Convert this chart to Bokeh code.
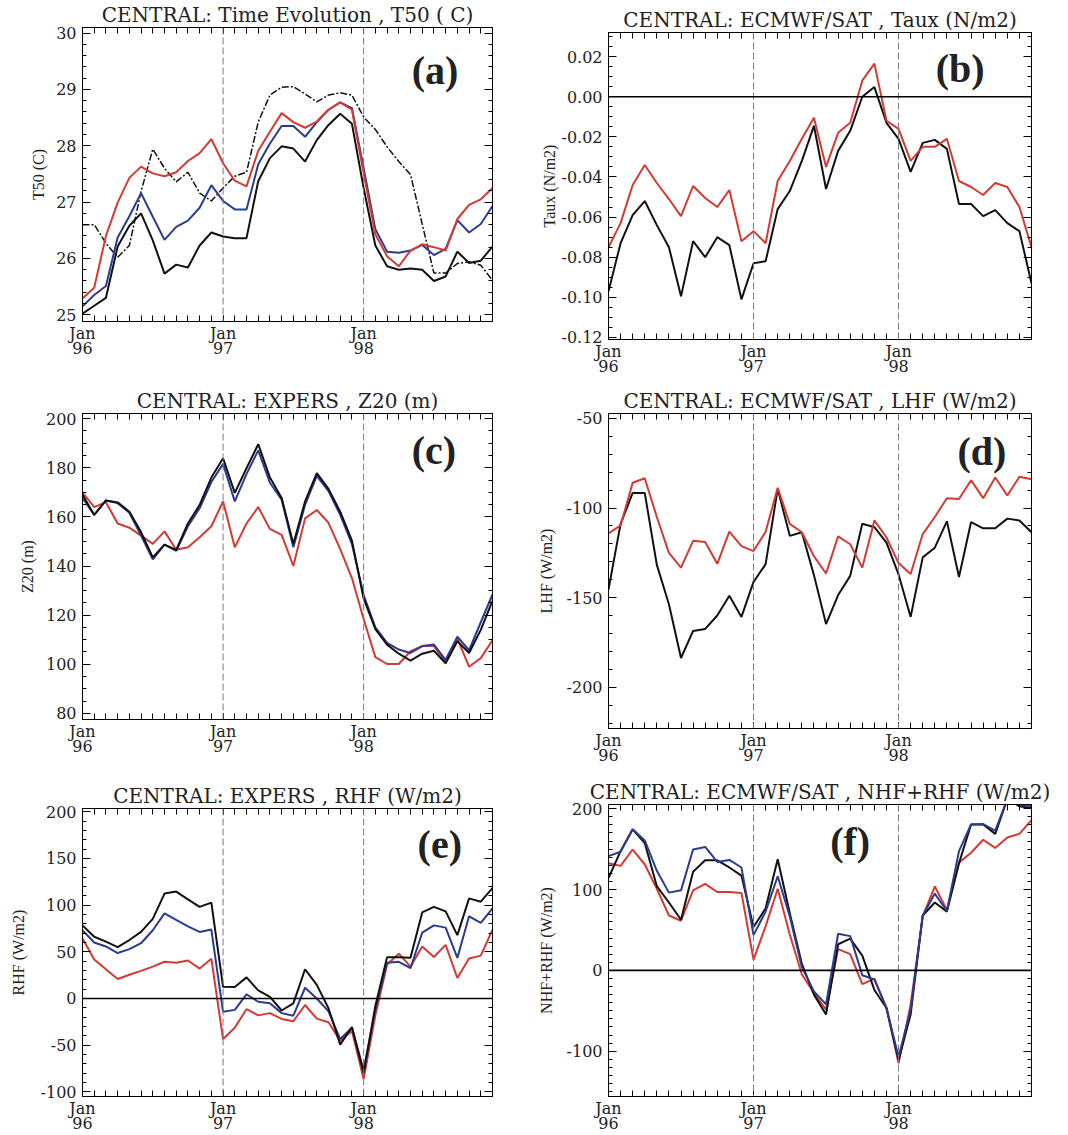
from bokeh.plotting import figure
from bokeh.models import FixedTicker, LinearAxis, Range1d, Span, Label, CustomLabelingPolicy
from bokeh.layouts import row, column
from bokeh.embed import file_html
from bokeh.resources import INLINE

# ---------------- data ----------------
months = list(range(36))            # Jan 96 ... Dec 98
jan_pos = [0, 12, 24]
jan_labels = ["Jan\n96", "Jan\n97", "Jan\n98"]

# (a) T50 (C)
t50_black = [25.02, 25.16, 25.3, 26.21, 26.58, 26.8, 26.32, 25.73, 25.89, 25.84, 26.23, 26.46,
             26.39, 26.36, 26.36, 27.37, 27.78, 27.99, 27.95, 27.72, 28.1, 28.37, 28.57, 28.39,
             27.25, 26.23, 25.86, 25.8, 25.82, 25.8, 25.6, 25.68, 26.12, 25.92, 25.96, 26.21]
t50_red = [25.29, 25.48, 26.4, 26.99, 27.43, 27.63, 27.51, 27.46, 27.53, 27.73, 27.87, 28.12,
           27.69, 27.38, 27.28, 27.91, 28.25, 28.58, 28.42, 28.32, 28.43, 28.64, 28.77, 28.64,
           27.51, 26.43, 26.04, 25.86, 26.14, 26.25, 26.2, 26.14, 26.7, 26.95, 27.05, 27.25]
t50_blue = [25.15, 25.35, 25.51, 26.37, 26.75, 27.16, 26.74, 26.33, 26.56, 26.67, 26.9, 27.3,
            27.02, 26.87, 26.87, 27.67, 28.04, 28.35, 28.35, 28.16, 28.42, 28.64, 28.77, 28.67,
            27.6, 26.52, 26.12, 26.1, 26.14, 26.24, 26.06, 26.17, 26.68, 26.46, 26.61, 26.93]
t50_obs = [26.6, 26.6, 26.27, 26.02, 26.23, 27.19, 27.94, 27.6, 27.36, 27.53, 27.16, 27.02,
           27.25, 27.46, 27.53, 28.42, 28.9, 29.04, 29.05, 28.92, 28.78, 28.9, 28.94, 28.9,
           28.51, 28.29, 27.98, 27.72, 27.49, 26.61, 25.74, 25.74, 25.91, 25.94, 25.88, 25.61]

# (b) Taux (N/m2)
taux_black = [-0.097, -0.073, -0.059, -0.052, -0.064, -0.075, -0.0995, -0.072, -0.080, -0.070, -0.074, -0.101,
              -0.083, -0.082, -0.056, -0.047, -0.032, -0.0145, -0.046, -0.027, -0.017, 0.0, 0.0048, -0.013,
              -0.021, -0.0375, -0.023, -0.0215, -0.026, -0.0535, -0.0535, -0.0595, -0.0565, -0.063, -0.067, -0.093]
taux_red = [-0.075, -0.063, -0.044, -0.034, -0.043, -0.051, -0.0595, -0.0445, -0.0505, -0.055, -0.0465, -0.072,
            -0.067, -0.073, -0.042, -0.032, -0.021, -0.0105, -0.035, -0.018, -0.013, 0.008, 0.0165, -0.012,
            -0.016, -0.032, -0.025, -0.025, -0.021, -0.042, -0.045, -0.049, -0.043, -0.045, -0.055, -0.075]

# (c) Z20 (m)
z20_black = [169, 160.8, 166.7, 165.9, 162.1, 153.8, 143.5, 148.7, 146.6, 157.3, 164.9, 176,
             183.9, 169.8, 179.8, 189.6, 176, 167.7, 149, 166.3, 177.8, 171.4, 162.1, 150.3,
             126.8, 114.3, 108, 104.3, 101.5, 104.3, 105.5, 100.4, 109.4, 104.6, 114.0, 125.8]
z20_blue = [167.7, 160.8, 166.7, 165.6, 161.7, 152.4, 142.7, 148.7, 146.2, 156.2, 163.5, 174.2,
            181.6, 166.3, 177.4, 187.1, 173.9, 167, 147.6, 164.9, 176.7, 170.5, 160.8, 149,
            128.2, 115, 108.7, 106, 104.6, 107.4, 108, 101.8, 111.2, 105.7, 117.1, 128.4]
z20_red = [170, 164, 166, 157.3, 155.6, 152.4, 149, 154.1, 146.6, 147.6, 151.7, 156.2,
           166.3, 147.6, 157.3, 164, 155.1, 152.7, 140, 159.4, 162.8, 157.6, 146.9, 135.1,
           118.4, 102.9, 100.1, 100.1, 105.3, 107.4, 107.4, 101.1, 110.4, 99, 102.5, 109.8]

# (d) LHF (W/m2)
lhf_black = [-145.4, -108.8, -91.6, -91.6, -131.7, -153.6, -183.6, -168.5, -167.4, -159.9, -148.9, -160.7,
             -141.2, -131.3, -89.3, -115.5, -113.5, -137.4, -164.7, -148.5, -137.8, -108.8, -110.7, -119.3,
             -137, -160.7, -127.5, -122.1, -107.4, -138.4, -107.8, -111.3, -111.3, -105.9, -106.9, -113.5]
lhf_red = [-114.1, -109.7, -85.9, -83.4, -105, -125, -133.2, -118.3, -118.9, -131.1, -113.2, -121.2,
           -124, -113.2, -88.7, -108.8, -113.5, -126.9, -136.5, -115.8, -120.2, -133.2, -106.9, -116.4,
           -130.7, -136.8, -114.5, -105, -94.5, -95, -84.5, -94.5, -83, -93, -82.6, -84]

# (e) RHF (W/m2)
rhf_black = [78.3, 66.1, 60.9, 55, 62.6, 71.3, 85.3, 112.4, 114.5, 106.1, 98.1, 102.7,
             12.5, 12.2, 22.6, 8.7, 1.7, -12.9, -5.2, 31.3, 14.6, -10.4, -49.4, -30.6,
             -80, -8, 44.2, 44.2, 43.5, 92.2, 98.1, 93.3, 67.9, 107.2, 103.7, 118.3]
rhf_blue = [73.1, 59.9, 55.7, 48.7, 52.9, 59.2, 73.1, 91.2, 84.2, 77.3, 71.3, 73.8,
            -14.3, -12.2, 4.5, -3.5, -5.2, -15.7, -18.4, 11.5, 0, -13.9, -43.5, -31.3,
            -76.6, -12, 38.3, 39.3, 32.4, 70.6, 78.3, 75.9, 43.5, 88, 81.1, 96.4]
rhf_red = [64.4, 41.8, 31.3, 20.9, 25.4, 29.6, 34.1, 39.3, 38.3, 40.7, 32, 42.5,
           -43.5, -31.3, -11.5, -18.1, -15.7, -21.9, -24.4, -7, -21.6, -25.4, -45.2, -34.8,
           -86.3, -18, 36.5, 48, 34.1, 55.7, 44.5, 57.4, 21.9, 42.8, 45.9, 73.8]

# (f) NHF+RHF (W/m2)
nrhf_black = [114.3, 147.5, 174.5, 157.6, 104.2, 84, 62.6, 122, 136.2, 136.2, 127.3, 117.2,
              53.7, 76.8, 137.4, 70.7, 8, -30, -54.5, 32.3, 39.2, 18.2, -24.2, -46.5,
              -111, -54.5, 67.9, 84, 72.7, 132.5, 180.6, 180.6, 168.9, 212, 203, 201]
nrhf_blue = [141.4, 146.7, 174.5, 160.8, 123.2, 96.2, 99, 149.5, 152.7, 134.1, 136.6, 127.3,
             43.6, 72.7, 116.4, 66.7, 4, -26, -42, 45.3, 42.4, -6.1, -11.3, -46.5,
             -107, -48.5, 67.9, 95, 73.5, 147.5, 180.6, 181, 173, 212, 205, 203]
nrhf_red = [132.5, 129.3, 149.5, 131.3, 101, 67.9, 61.4, 99, 107, 97, 97, 95.8,
            13.3, 54.5, 101, 44.4, -5, -28, -48.5, 26.3, 20.2, -17, -10.1, -46.5,
            -115, -42.4, 66.7, 103.8, 74.7, 133.3, 145.5, 161.6, 151.5, 164.4, 168.9, 185.9]

# ---------------- style ----------------
BLACK = "#111111"
RED = "#d43a34"
BLUE = "#2b3c8e"
TICK_FONT = "DejaVu Serif"
LABEL_FONT = "Liberation Serif"
NO_LABELS_JS = "for (const i of Array.from(indices)) { indices.unset(i) }\nreturn indices"


def frange(a, b, step):
    out = []
    v = a
    while v <= b + 1e-9:
        out.append(round(v, 6))
        v += step
    return out


def style_axis(ax, labels=True, maj_in=8, min_in=4):
    ax.major_tick_in = maj_in
    ax.major_tick_out = 0
    ax.minor_tick_in = min_in
    ax.minor_tick_out = 0
    ax.axis_line_color = "black"
    ax.axis_line_width = 1
    ax.major_tick_line_color = "black"
    ax.minor_tick_line_color = "black"
    if labels:
        ax.major_label_text_font = TICK_FONT
        ax.major_label_text_font_size = "16px"
        ax.major_label_text_color = "#222222"
        ax.major_label_standoff = 6
    else:
        ax.major_label_text_font_size = "0px"
        ax.major_label_standoff = 0
        ax.major_label_policy = CustomLabelingPolicy(code=NO_LABELS_JS)


def panel(title, ylabel, ylo, yhi, majors, minors, ylabels, width, height,
          bl, br, bt, bb, lab_standoff, letter, lx, ly, series, zero=False):
    p = figure(width=width, height=height, x_range=Range1d(0, 35), y_range=Range1d(ylo, yhi),
               output_backend="svg", toolbar_location=None,
               min_border_left=bl, min_border_right=br, min_border_top=bt, min_border_bottom=bb,
               x_axis_type=None, y_axis_type=None)
    p.outline_line_color = "black"
    p.background_fill_color = "white"
    p.border_fill_color = "white"

    p.title.text = title
    p.title.align = "center"
    p.title.text_font = TICK_FONT
    p.title.text_font_size = "20px"
    p.title.text_font_style = "normal"
    p.title.text_color = "#222222"
    p.title.standoff = 1

    xt = FixedTicker(ticks=jan_pos, minor_ticks=months)
    yt = FixedTicker(ticks=majors, minor_ticks=minors)

    bottom = LinearAxis(ticker=xt, major_label_overrides=dict(zip(jan_pos, jan_labels)))
    style_axis(bottom, True, 6, 6)
    bottom.major_label_standoff = 2
    bottom.major_label_text_line_height = 0.8
    p.add_layout(bottom, "below")

    top = LinearAxis(ticker=xt)
    style_axis(top, False, 6, 6)
    p.add_layout(top, "above")

    left = LinearAxis(ticker=yt, major_label_overrides=dict(zip(majors, ylabels)))
    style_axis(left, True, 8, 4)
    left.axis_label = ylabel
    left.axis_label_text_font = LABEL_FONT
    left.axis_label_text_font_style = "normal"
    left.axis_label_text_font_size = "16px"
    left.axis_label_text_color = "#222222"
    left.axis_label_standoff = lab_standoff
    p.add_layout(left, "left")

    right = LinearAxis(ticker=yt)
    style_axis(right, False, 8, 4)
    p.add_layout(right, "right")

    for xv in jan_pos[1:]:
        p.add_layout(Span(location=xv, dimension="height", line_color="#7a7a84",
                          line_width=1, line_dash="7 3"))
    if zero:
        p.add_layout(Span(location=0, dimension="width", line_color="black", line_width=1.6))

    for vals, color, lw, dash in series:
        p.line(months, vals, line_color=color, line_width=lw, line_dash=dash)

    p.add_layout(Label(x=lx, y=ly, text=letter, text_font=LABEL_FONT, text_font_style="bold",
                       text_font_size="40px", text_align="center", text_baseline="middle",
                       text_color="#222222"))
    return p


W = 534
LB1, RB1 = 82, 42      # left column (columns share frame edges)
LB2, RB2 = 71, 37      # right column

pa = panel("CENTRAL: Time Evolution , T50 ( C)", "T50 (C)", 24.88, 30.1,
           [25, 26, 27, 28, 29, 30], frange(24.8, 30.2, 0.2),
           ["25", "26", "27", "28", "29", "30"],
           W, 386, LB1, RB1, 24, 65, 6, "(a)", 30.1, 29.33,
           [(t50_obs, BLACK, 1.5, "7 2 2 2"), (t50_black, BLACK, 2, "solid"),
            (t50_blue, BLUE, 2, "solid"), (t50_red, RED, 2, "solid")])

pb = panel("CENTRAL: ECMWF/SAT , Taux (N/m2)", "Taux (N/m2)", -0.121, 0.032,
           [-0.12, -0.10, -0.08, -0.06, -0.04, -0.02, 0.0, 0.02], frange(-0.125, 0.035, 0.005),
           ["-0.12", "-0.10", "-0.08", "-0.06", "-0.04", "-0.02", "0.00", "0.02"],
           W, 386, LB2, RB2, 32, 47, 0, "(b)", 29.1, 0.0141,
           [(taux_black, BLACK, 2, "solid"), (taux_red, RED, 2, "solid")], zero=True)

pc = panel("CENTRAL: EXPERS , Z20 (m)", "Z20 (m)", 77.5, 202.1,
           [80, 100, 120, 140, 160, 180, 200], frange(75, 205, 5),
           ["80", "100", "120", "140", "160", "180", "200"],
           W, 384, LB1, RB1, 27, 51, 7, "(c)", 30, 187,
           [(z20_red, RED, 2, "solid"), (z20_blue, BLUE, 2, "solid"), (z20_black, BLACK, 2, "solid")])

pd_ = panel("CENTRAL: ECMWF/SAT , LHF (W/m2)", "LHF (W/m2)", -222.9, -47.3,
            [-200, -150, -100, -50], frange(-230, -40, 10),
            ["-200", "-150", "-100", "-50"],
            W, 384, LB2, RB2, 27, 42, 9, "(d)", 30.9, -68.6,
            [(lhf_black, BLACK, 2, "solid"), (lhf_red, RED, 2, "solid")])

pe = panel("CENTRAL: EXPERS , RHF (W/m2)", "RHF (W/m2)", -105, 203.5,
           [-100, -50, 0, 50, 100, 150, 200], frange(-110, 210, 10),
           ["-100", "-50", "0", "50", "100", "150", "200"],
           W, 365, LB1, RB1, 38, 38, 11, "(e)", 30.5, 165,
           [(rhf_red, RED, 2, "solid"), (rhf_blue, BLUE, 2, "solid"), (rhf_black, BLACK, 2, "solid")],
           zero=True)

pf = panel("CENTRAL: ECMWF/SAT , NHF+RHF (W/m2)", "NHF+RHF (W/m2)", -156, 205.2,
           [-100, 0, 100, 200], frange(-160, 210, 10),
           ["-100", "0", "100", "200"],
           W, 365, LB2, RB2, 34, 38, 9, "(f)", 20, 159.5,
           [(nrhf_red, RED, 2, "solid"), (nrhf_black, BLACK, 2, "solid"), (nrhf_blue, BLUE, 2, "solid")],
           zero=True)

layout = row(column(pa, pc, pe), column(pb, pd_, pf))

with open("out.html", "w") as f:
    f.write(file_html(layout, INLINE))
